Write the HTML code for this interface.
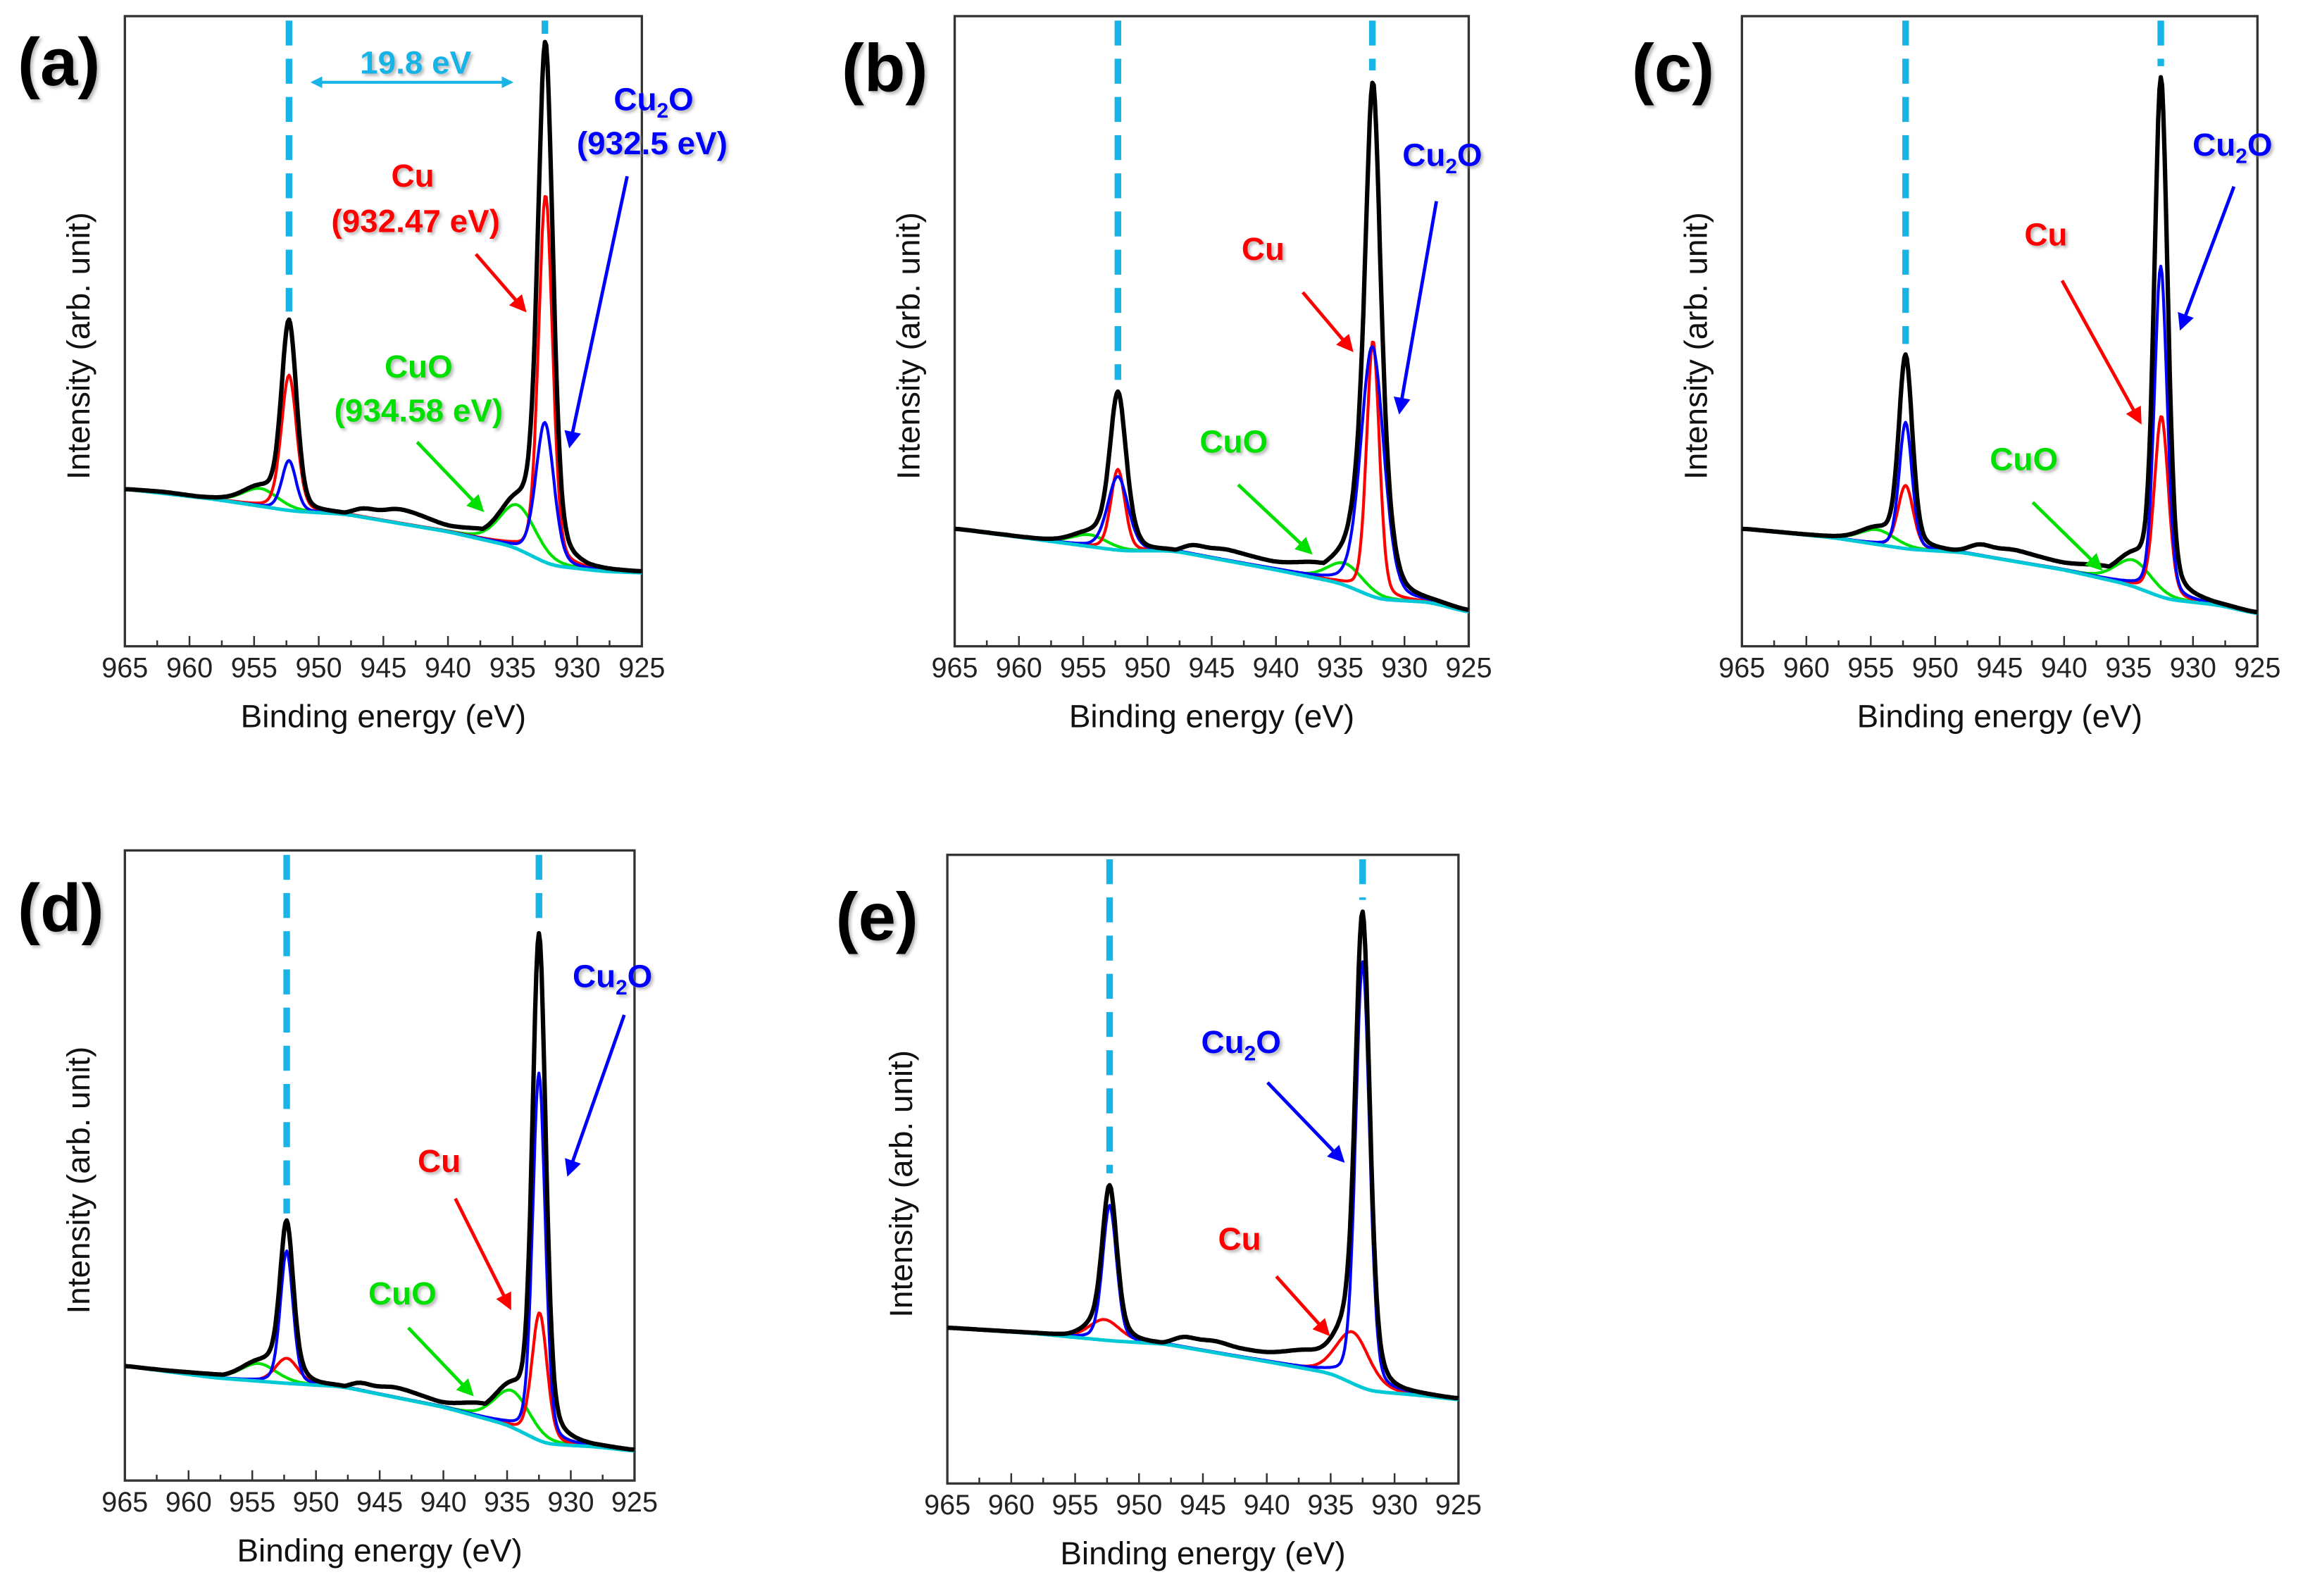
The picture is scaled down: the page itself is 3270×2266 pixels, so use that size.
<!DOCTYPE html>
<html><head><meta charset="utf-8"><style>
html,body{margin:0;padding:0;background:#fff;}
svg{display:block;}
text{font-family:"Liberation Sans",Arial,sans-serif;}
</style></head><body>
<svg id="fig" width="3270" height="2266" viewBox="0 0 1568 1086.6" xmlns="http://www.w3.org/2000/svg">
<defs>
<marker id="ah-red" viewBox="0 0 10 10" refX="8" refY="5" markerWidth="5" markerHeight="5" orient="auto"><path d="M0,0 L10,5 L0,10 z" fill="#ff0000"/></marker>
<marker id="ah-blue" viewBox="0 0 10 10" refX="8" refY="5" markerWidth="5" markerHeight="5" orient="auto"><path d="M0,0 L10,5 L0,10 z" fill="#0000ff"/></marker>
<marker id="ah-green" viewBox="0 0 10 10" refX="8" refY="5" markerWidth="5" markerHeight="5" orient="auto"><path d="M0,0 L10,5 L0,10 z" fill="#00e000"/></marker>
<marker id="ah-cyan" viewBox="0 0 10 10" refX="8" refY="5" markerWidth="4" markerHeight="4" orient="auto-start-reverse"><path d="M0,0 L10,5 L0,10 z" fill="#18b4e6"/></marker>
<filter id="sh" x="-10%" y="-10%" width="130%" height="140%"><feDropShadow dx="1.5" dy="1.5" stdDeviation="1" flood-color="#888" flood-opacity="0.6"/></filter>
</defs>
</svg>
<script>
// ---- data (intensity = height above plot bottom, arbitrary units) ----
const panelIds = ['a','b','c','d','e'];
const xTicks = [965,960,955,950,945,940,935,930,925];
const peakLines = [952.3, 932.5];
// Shirley background (cyan) knots
const cyanE = [965,958,952,948,940,935,932,928,925];
const cyanA = [107,100,92,90,78,68,55,51,50];
const cyanB = [80,72,65,65,52,43,32,30,23];
const cyanC = [80,74,66,64,52,42,32,28,22];
const cyanD = [78,70,66,64,50,38,25,23,20];
const cyanEp = [106,102,97,95,83,75,63,60,57];
// black envelope baseline knots (background + satellites)
const baseE = [965,962,958,955,950,948,946.5,945.5,944,942.5,940,937,934,930,928,925];
const baseA = [107,105,100,97,91,89,95,91,94,90,81,78,70,55,50,48];
const baseB = [80,76,72,72,65,63,70,66,66,62,56,55,45,33,30,23];
const baseC = [80,76,73,72,66,64,71,66,66,62,56,54,44,32,28,22];
const baseD = [78,75,72,70,64,62,68,63,64,60,52,52,40,26,23,20];
const baseEp = [106,102,100,100,96,94,101,97,97,92,88,89,76,60,58,57];
// component peak positions and heights [2p1/2 , 2p3/2]
const cuPos = [952.3,932.45];
const cu2oPos = [952.3,932.5];
const cuoPos = [954.5,934.6];
const cuH = [[92,250],[55,174],[43,123],[17,87],[14,35]];
const cu2oH = [[34,95],[50,170],[86,225],[90,250],[92,290]];
const cuoH = [[12,30],[8,15],[10,18],[12,25],[0,0]];
const cuW = [[0.6,0.55],[0.55,0.5],[0.6,0.55],[0.9,0.6],[1.2,1.3]];
const cu2oW = [[0.55,0.7],[0.8,0.9],[0.5,0.5],[0.5,0.5],[0.55,0.55]];
const cuShift = [[0,0],[0,0],[0,0],[0,0],[-0.4,-0.8]];
// panel frames (thumbnail coords)
const frames = {a:[85,11,437,440],b:[650,11,1000,440],c:[1186,11,1537,440],d:[85,579,432,1008],e:[645,582,993,1010]};

const NS='http://www.w3.org/2000/svg';
const svg=document.getElementById('fig');
function mk(tag,attrs,parent){const e=document.createElementNS(NS,tag);for(const k in attrs)e.setAttribute(k,attrs[k]);(parent||svg).appendChild(e);return e;}
function interp(E,V,x){if(x>=E[0])return V[0];for(let i=0;i<E.length-1;i++){if(x<=E[i]&&x>=E[i+1]){const t=(E[i]-x)/(E[i]-E[i+1]);return V[i]+t*(V[i+1]-V[i]);}}return V[V.length-1];}
function smooth(E,V,x){let s=0,w=0;for(let d=-1.2;d<=1.21;d+=0.3){const k=Math.exp(-0.5*(d/0.6)**2);s+=k*interp(E,V,x+d);w+=k;}return s/w;}
function pv(x,c,s){const g=Math.exp(-0.5*((x-c)/s)**2);const l=1/(1+((x-c)/(1.18*s))**2);return 0.75*g+0.25*l;}
const cyans=[cyanA,cyanB,cyanC,cyanD,cyanEp];
const bases=[baseA,baseB,baseC,baseD,baseEp];

panelIds.forEach((id,pi)=>{
  const [x0,y0,x1,y1]=frames[id];
  const g=mk('g',{});
  
  
  const xs=e=>x0+(965-e)/40*(x1-x0);
  const ys=v=>y1-v;
  const fr=mk('rect',{x:x0,y:y0,width:x1-x0,height:y1-y0,fill:'none',stroke:'#333',"stroke-width":1.6},g);
  
  
  for(let e=965;e>=925;e-=2.5){
    const major=(e%5===0);
    const t=mk('line',{x1:xs(e),x2:xs(e),y1:y1,y2:y1-(major?7:4),stroke:'#333',"stroke-width":1.2},g);
    
    
  }
  xTicks.forEach(v=>{
    const t=mk('text',{x:xs(v),y:y1+21,"font-size":19,"text-anchor":"middle",fill:'#222'},g);
    t.textContent=v;
    
    
  });
  const xt=mk('text',{x:(x0+x1)/2,y:y1+55,"font-size":22,"text-anchor":"middle",fill:'#111'},g);
  xt.textContent='Binding energy (eV)';
  
  
  const cy=(y0+y1)/2+10, cx=x0-24;
  const yt=mk('text',{x:cx,y:cy,"font-size":22,"text-anchor":"middle",fill:'#111',transform:`rotate(-90 ${cx} ${cy})`},g);
  yt.textContent='Intensity (arb. unit)';
  
  
  const cyanV=cyans[pi], baseV=bases[pi];
  const comps={cyan:[],red:[],blue:[],green:[],black:[]};
  for(let e=965;e>=925-1e-9;e-=0.1){
    const bg=smooth(cyanE,cyanV,e), bb=smooth(baseE,baseV,e);
    let cu=0,co=0,cuo=0;
    for(let k=0;k<2;k++){
      cu+=cuH[pi][k]*pv(e,cuPos[k]-cuShift[pi][k],cuW[pi][k]);
      co+=cu2oH[pi][k]*pv(e,cu2oPos[k],cu2oW[pi][k]);
      cuo+=cuoH[pi][k]*pv(e,cuoPos[k],1.4);
    }
    const X=xs(e).toFixed(1);
    comps.cyan.push(X+','+ys(bg).toFixed(1));
    comps.red.push(X+','+ys(bg+cu).toFixed(1));
    comps.blue.push(X+','+ys(bg+co).toFixed(1));
    if(cuoH[pi][1]>0) comps.green.push(X+','+ys(bg+cuo).toFixed(1));
    comps.black.push(X+','+ys(Math.max(bb,bg+cuo)+cu+co).toFixed(1));
  }
  const styles={cyan:['#00c8d4',2.4,'background-curve'],green:['#00e000',2,'cuo-fit-curve'],red:['#ff0000',2,'cu-fit-curve'],blue:['#0000ff',2,'cu2o-fit-curve'],black:['#000',3,'measured-spectrum']};
  ['green','red','blue','cyan','black'].forEach(k=>{
    if(!comps[k].length)return;
    const p=mk('polyline',{points:comps[k].join(' '),fill:'none',stroke:styles[k][0],"stroke-width":styles[k][1],"stroke-linejoin":'round'},g);
    
    
  });
  peakLines.forEach((pe)=>{
    let top=y0+3;
    let maxv=0;for(let e=pe-0.3;e<=pe+0.3;e+=0.05){const bg=smooth(cyanE,cyanV,e);let s=Math.max(smooth(baseE,baseV,e),bg);for(let j=0;j<2;j++){s+=cuH[pi][j]*pv(e,cuPos[j]-cuShift[pi][j],cuW[pi][j])+cu2oH[pi][j]*pv(e,cu2oPos[j],cu2oW[pi][j]);}maxv=Math.max(maxv,s);}
    const bot=ys(maxv)-8;
    const l=mk('line',{x1:xs(pe),x2:xs(pe),y1:top,y2:bot,stroke:'#18b4e6',"stroke-width":4.5,"stroke-dasharray":'17 9'},g);
    
    
  });
});

function label(x,y,txt,color,size,name,sub){
  const t=mk('text',{x:x,y:y,"font-size":size,"font-weight":'bold',fill:color,"text-anchor":'middle',filter:'url(#sh)'});
  if(sub){t.appendChild(document.createTextNode('Cu'));const s=mk('tspan',{"font-size":size*0.65,dy:5},t);s.textContent='2';const o=mk('tspan',{dy:-5},t);o.textContent='O';}
  else t.textContent=txt;
  
  
  return t;
}
function arrow(x1,y1,x2,y2,color,mid,name){
  const a=mk('line',{x1,y1,x2,y2,stroke:color,"stroke-width":2.3,"marker-end":`url(#${mid})`});
  
  
}
[['(a)',12,58],['(b)',573,62],['(c)',1111,62],['(d)',12,634],['(e)',569,640]].forEach(p=>{
  const t=mk('text',{x:p[1],y:p[2],"font-size":46,"font-weight":'bold',fill:'#000',filter:'url(#sh)'});
  t.textContent=p[0];
  
  
});
label(283,50,'19.8 eV','#18b4e6',22,'energy-split-label');
const da=mk('line',{x1:213,y1:56,x2:348,y2:56,stroke:'#18b4e6',"stroke-width":2,"marker-end":'url(#ah-cyan)',"marker-start":'url(#ah-cyan)'});


label(445,75,'','#0000ff',22,'cu2o-label',true);
label(444,105,'(932.5 eV)','#0000ff',22,'cu2o-energy-label');
label(281,127,'Cu','#ff0000',22,'cu-label');
label(283,158,'(932.47 eV)','#ff0000',22,'cu-energy-label');
label(285,257,'CuO','#00e000',22,'cuo-label');
label(285,287,'(934.58 eV)','#00e000',22,'cuo-energy-label');
arrow(324,173,357,211,'#ff0000','ah-red','cu-arrow');
arrow(427,120,388,303,'#0000ff','ah-blue','cu2o-arrow');
arrow(284,301,328,347,'#00e000','ah-green','cuo-arrow');
label(982,113,'','#0000ff',22,'cu2o-label',true);
label(860,177,'Cu','#ff0000',22,'cu-label');
label(840,308,'CuO','#00e000',22,'cuo-label');
arrow(978,137,953,280,'#0000ff','ah-blue','cu2o-arrow');
arrow(887,199,920,238,'#ff0000','ah-red','cu-arrow');
arrow(843,330,892,376,'#00e000','ah-green','cuo-arrow');
label(1520,106,'','#0000ff',22,'cu2o-label',true);
label(1393,167,'Cu','#ff0000',22,'cu-label');
label(1378,320,'CuO','#00e000',22,'cuo-label');
arrow(1521,127,1485,223,'#0000ff','ah-blue','cu2o-arrow');
arrow(1404,191,1457,287,'#ff0000','ah-red','cu-arrow');
arrow(1384,342,1430,387,'#00e000','ah-green','cuo-arrow');
label(417,672,'','#0000ff',22,'cu2o-label',true);
label(299,798,'Cu','#ff0000',22,'cu-label');
label(274,888,'CuO','#00e000',22,'cuo-label');
arrow(425,691,387,799,'#0000ff','ah-blue','cu2o-arrow');
arrow(310,816,347,890,'#ff0000','ah-red','cu-arrow');
arrow(278,904,321,949,'#00e000','ah-green','cuo-arrow');
label(845,717,'','#0000ff',22,'cu2o-label',true);
label(844,851,'Cu','#ff0000',22,'cu-label');
arrow(863,737,914,790,'#0000ff','ah-blue','cu2o-arrow');
arrow(869,869,904,908,'#ff0000','ah-red','cu-arrow');
</script>
</body></html>
